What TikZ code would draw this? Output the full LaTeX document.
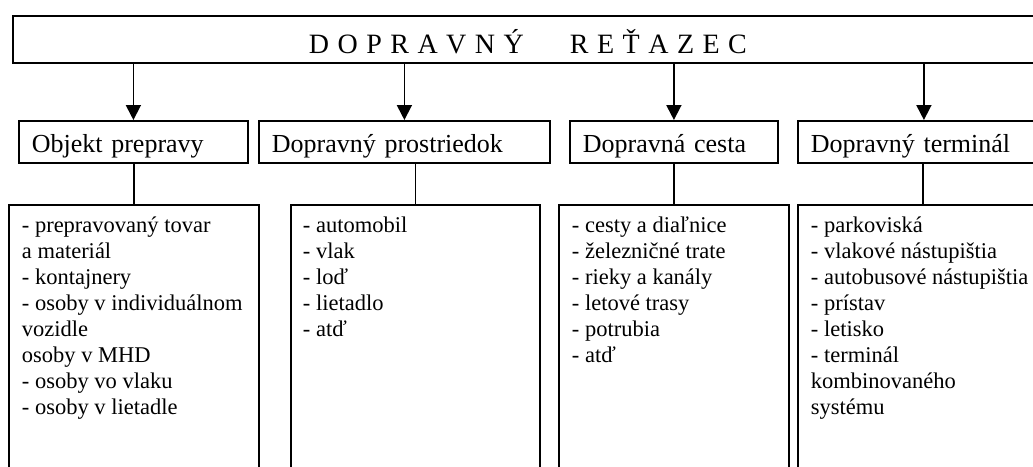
\documentclass[tikz,border=0pt]{standalone}
\usepackage{fontspec}
\setmainfont{Liberation Serif}
\usetikzlibrary{arrows.meta}
\newcommand{\lsp}{\hspace{8.5pt}}
\begin{document}
\begin{tikzpicture}[x=1pt,y=-1pt,line width=1.8pt,
  titlebox/.style={draw,rectangle,inner sep=0pt,anchor=north west,minimum width=1030pt,minimum height=47pt,
    font=\fontsize{28pt}{30pt}\selectfont,text height=28pt,text depth=0pt},
  headbox/.style={draw,rectangle,inner xsep=13pt,inner ysep=0pt,anchor=north west,minimum height=42pt,align=left,
    font=\fontsize{26pt}{28pt}\selectfont,text height=22pt,text depth=0.6pt},
  listbox/.style={draw,rectangle,inner sep=0pt,anchor=north west,minimum height=280pt},
  listtext/.style={inner sep=0pt,anchor=north west,align=left,font=\fontsize{22.5pt}{26pt}\selectfont},
  arr/.style={-{Triangle[length=15pt,width=15pt]}},
  link/.style={}]
\useasboundingbox (0,0) rectangle (1033,466);
\clip (0,0) rectangle (1033,466);
\fill[white] (0,0) rectangle (1033,466);

\node[titlebox] (title) at (12,15) {D\lsp O\lsp P\lsp R\lsp A\lsp V\lsp N\lsp Ý\hspace{46pt}R\lsp E\lsp Ť\lsp A\lsp Z\lsp E\lsp C};

\node[headbox,text width=203pt] (h1) at (18,120) {Objekt prepravy};
\node[headbox,text width=265pt] (h2) at (258,120) {Dopravný prostriedok};
\node[headbox,text width=182pt] (h3) at (569,120) {Dopravná cesta};
\node[headbox,text width=226pt] (h4) at (797,120) {Dopravný terminál};

\foreach \h in {h1,h2,h3,h4}
  \draw[arr] (title.south -| \h.north) -- (\h.north);

\node[listbox,minimum width=250pt] (c1) at (8,204) {};
\node[listbox,minimum width=249pt] (c2) at (290,204) {};
\node[listbox,minimum width=230pt] (c3) at (558,204) {};
\node[listbox,minimum width=250pt] (c4) at (797,204) {};

\foreach \h/\c in {h1/c1,h2/c2,h3/c3,h4/c4}
  \draw[link] (\c.north |- \h.south) -- (\c.north);

\node[listtext] (l1) at ([xshift=13pt,yshift=-9.8pt]c1.north west) {\strut - prepravovaný tovar\\ a materiál\\ - kontajnery\\ - osoby v individuálnom\\ vozidle\\ osoby v MHD\\ - osoby vo vlaku\\ - osoby v lietadle};
\node[listtext] (l2) at ([xshift=12pt,yshift=-9.8pt]c2.north west) {\strut - automobil\\ - vlak\\ - loď\\ - lietadlo\\ - atď};
\node[listtext] (l3) at ([xshift=13pt,yshift=-9.8pt]c3.north west) {\strut - cesty a diaľnice\\ - železničné trate\\ - rieky a kanály\\ - letové trasy\\ - potrubia\\ - atď};
\node[listtext] (l4) at ([xshift=13pt,yshift=-9.8pt]c4.north west) {\strut - parkoviská\\ - vlakové nástupištia\\ - autobusové nástupištia\\ - prístav\\ - letisko\\ - terminál\\ kombinovaného\\ systému};
\end{tikzpicture}
\end{document}
